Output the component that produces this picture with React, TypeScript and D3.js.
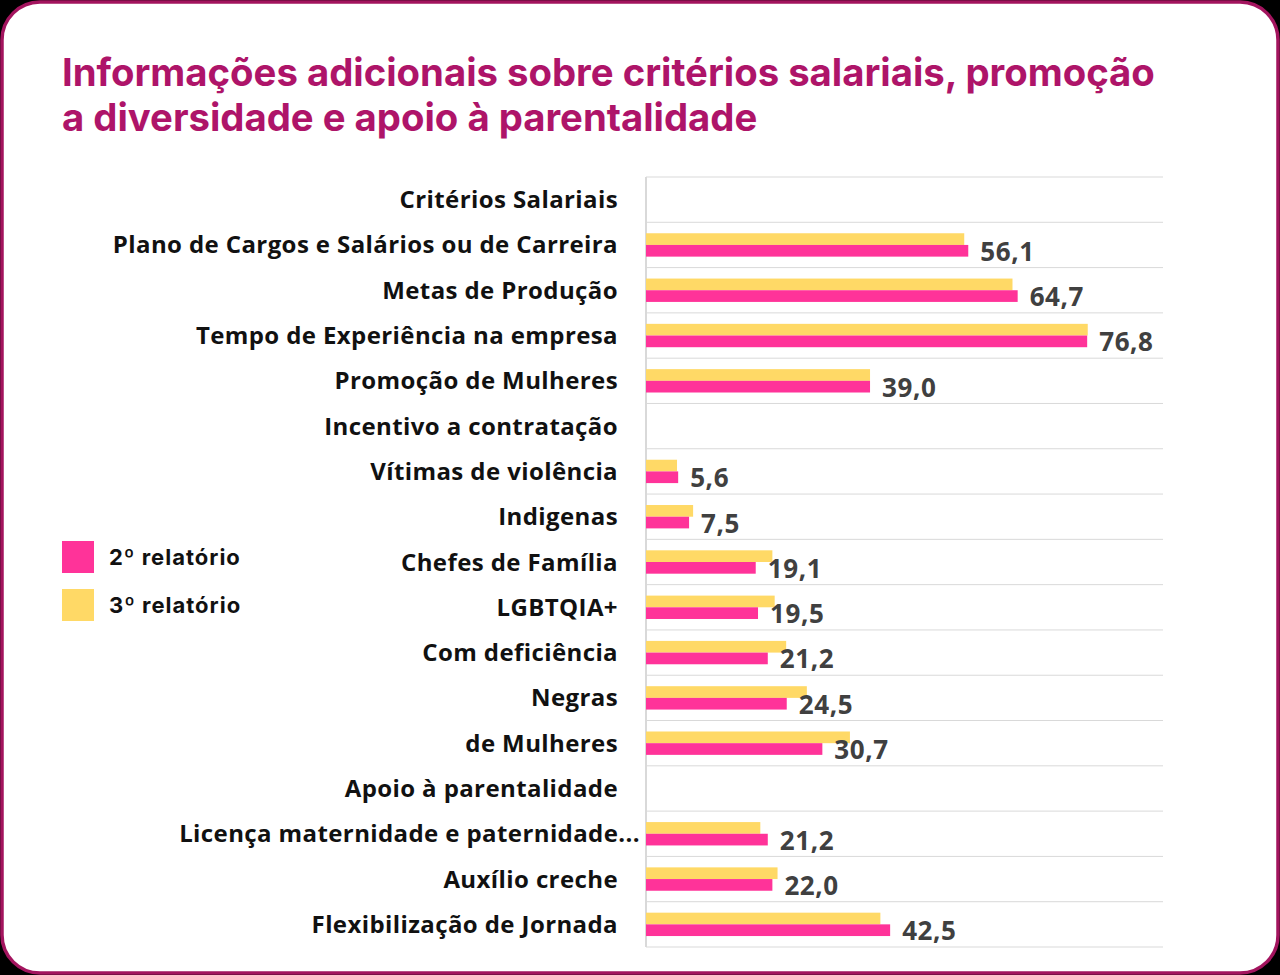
import React from "react";
import * as d3 from "d3";

const categories = [
    "Critérios Salariais",
    "Plano de Cargos e Salários ou de Carreira",
    "Metas de Produção",
    "Tempo de Experiência na empresa",
    "Promoção de Mulheres",
    "Incentivo a contratação",
    "Vítimas de violência",
    "Indigenas",
    "Chefes de Família",
    "LGBTQIA+",
    "Com deficiência",
    "Negras",
    "de Mulheres",
    "Apoio à parentalidade",
    "Licença maternidade e paternidade...",
    "Auxílio creche",
    "Flexibilização de Jornada",
];

// 2º relatório (pink, labelled)
const report2 = [null, 56.1, 64.7, 76.8, 39.0, null, 5.6, 7.5, 19.1, 19.5, 21.2, 24.5, 30.7, null, 21.2, 22.0, 42.5];
// 3º relatório (yellow)
const report3 = [null, 55.4, 63.8, 76.9, 39.0, null, 5.4, 8.2, 22.0, 22.4, 24.4, 28.0, 35.5, null, 19.9, 22.9, 40.8];

const legendLabels = ["2º relatório", "3º relatório"];
const titleLines = [
    "Informações adicionais sobre critérios salariais, promoção",
    "a diversidade e apoio à parentalidade",
];

const W = 1280;
const H = 975;
const PINK = "#FF3399";
const YELLOW = "#FFD966";
const TITLE = "#AE1469";
const labelFont = "'Open Sans', sans-serif";
const uiFont = "Inter, Roboto, sans-serif";

const App = () => {
    const y = d3.scaleBand<string>().domain(categories).range([177, 947]);
    const x = d3.scaleLinear().domain([0, 90]).range([646, 1163]);
    const barH = y.bandwidth() * 0.258;
    const fmt = (v: number) => d3.format(".1f")(v).replace(".", ",");
    const gridYs = d3.range(categories.length + 1).map((i) => 177 + i * y.bandwidth());

    return (
        <svg width={W} height={H} style={{ position: "absolute", left: 0, top: 0 }}>
            <rect width={W} height={H} fill="#000" />
            <rect x={2} y={2} width={W - 4} height={H - 4} rx={38} ry={38}
                fill="#fff" stroke="#A3145E" strokeWidth={3.5} />

            {titleLines.map((t, i) => (
                <text key={i} x={62} y={86 + i * 45} fill={TITLE}
                    fontFamily={uiFont} fontWeight={700} fontSize={38.3}>{t}</text>
            ))}

            {/* gridlines */}
            {gridYs.map((gy, i) => (
                <line key={i} x1={x(0)} x2={x.range()[1]} y1={gy} y2={gy} stroke="#D9D9D9" strokeWidth={1} />
            ))}
            <line x1={x(0)} x2={x(0)} y1={177} y2={947} stroke="#D9D9D9" strokeWidth={2} />

            {/* category labels */}
            {categories.map((c) => (
                <text key={c} x={c.endsWith("...") ? 640 : 618} y={(y(c) as number) + y.bandwidth() / 2 - 1}
                    textAnchor="end" dominantBaseline="central" fill="#111" letterSpacing={0.4}
                    fontFamily={labelFont} fontWeight={700} fontSize={24}>{c}</text>
            ))}

            {/* bars */}
            {categories.map((c, i) => {
                const cy = (y(c) as number) + y.bandwidth() / 2;
                const v2 = report2[i];
                const v3 = report3[i];
                if (v2 == null || v3 == null) return null;
                return (
                    <g key={c}>
                        <rect x={x(0)} y={cy - barH} width={x(v3) - x(0)} height={barH} fill={YELLOW} />
                        <rect x={x(0)} y={cy} width={x(v2) - x(0)} height={barH} fill={PINK} />
                        <text x={x(v2) + 12} y={cy + barH / 2} dominantBaseline="central" letterSpacing={0.6}
                            fill="#404040" fontFamily={labelFont} fontWeight={700} fontSize={26}>{fmt(v2)}</text>
                    </g>
                );
            })}

            {/* legend */}
            {legendLabels.map((l, i) => (
                <g key={l} transform={`translate(62, ${541 + i * 48})`}>
                    <rect width={32} height={32} fill={i === 0 ? PINK : YELLOW} />
                    <text x={47} y={16} dominantBaseline="central" fill="#111" letterSpacing={1}
                        fontFamily={uiFont} fontWeight={700} fontSize={22}>{l}</text>
                </g>
            ))}
        </svg>
    );
};

export default App;
